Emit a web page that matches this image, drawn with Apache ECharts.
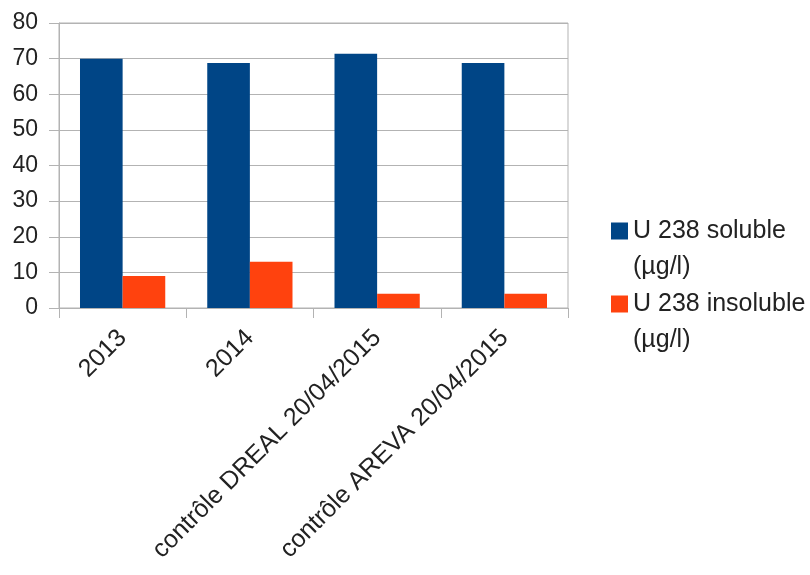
<!DOCTYPE html>
<html>
<head>
<meta charset="utf-8">
<script src="https://cdn.jsdelivr.net/npm/echarts@6/dist/echarts.min.js"></script>
<style>html,body{margin:0;padding:0;background:#fff}#c{width:810px;height:575px}</style>
</head>
<body>
<div id="c"></div>
<script>
const categories = ['2013', '2014', 'contrôle DREAL 20/04/2015', 'contrôle AREVA 20/04/2015'];
const seriesNames = ['U 238 soluble\n(µg/l)', 'U 238 insoluble\n(µg/l)'];
const soluble = [70, 68.8, 71.4, 68.8];
const insoluble = [9, 13, 4, 4];
const yMin = 0, yMax = 80, yStep = 10;

// legend icon: square aligned with the first text line (box 17 x 72)
const iconPath = 'path://M0,0M17,72M0,9.5L17,9.5L17,26.5L0,26.5Z';

const chart = echarts.init(document.getElementById('c'), null, {renderer: 'canvas'});
chart.setOption({
  animation: false,
  backgroundColor: '#fff',
  textStyle: {fontFamily: 'Liberation Sans, Arial, sans-serif'},
  grid: {left: 59, right: 242, top: 23, bottom: 267, show: true, borderColor: '#b3b3b3', borderWidth: 1},
  legend: {
    orient: 'vertical', left: 606, top: 208,
    itemWidth: 17, itemHeight: 72, itemGap: 1,
    icon: iconPath,
    textStyle: {fontSize: 25, lineHeight: 36, color: '#222'},
    data: seriesNames
  },
  xAxis: {
    type: 'category', data: categories,
    axisLine: {lineStyle: {color: '#b3b3b3'}},
    axisTick: {show: true, length: 10, lineStyle: {color: '#b3b3b3'}},
    axisLabel: {rotate: 45, fontSize: 25, color: '#222', margin: 26, interval: 0}
  },
  yAxis: {
    type: 'value', min: yMin, max: yMax, interval: yStep,
    axisLine: {show: true, lineStyle: {color: '#b3b3b3'}},
    axisTick: {show: true, length: 10, lineStyle: {color: '#b3b3b3'}},
    splitLine: {lineStyle: {color: '#b3b3b3'}},
    axisLabel: {fontSize: 23, color: '#222', margin: 21}
  },
  series: [
    {name: seriesNames[0], type: 'bar', data: soluble, itemStyle: {color: '#004586'}, barGap: '0%', barCategoryGap: '33%'},
    {name: seriesNames[1], type: 'bar', data: insoluble, itemStyle: {color: '#ff420e'}, barGap: '0%', barCategoryGap: '33%'}
  ]
});
</script>
</body>
</html>
